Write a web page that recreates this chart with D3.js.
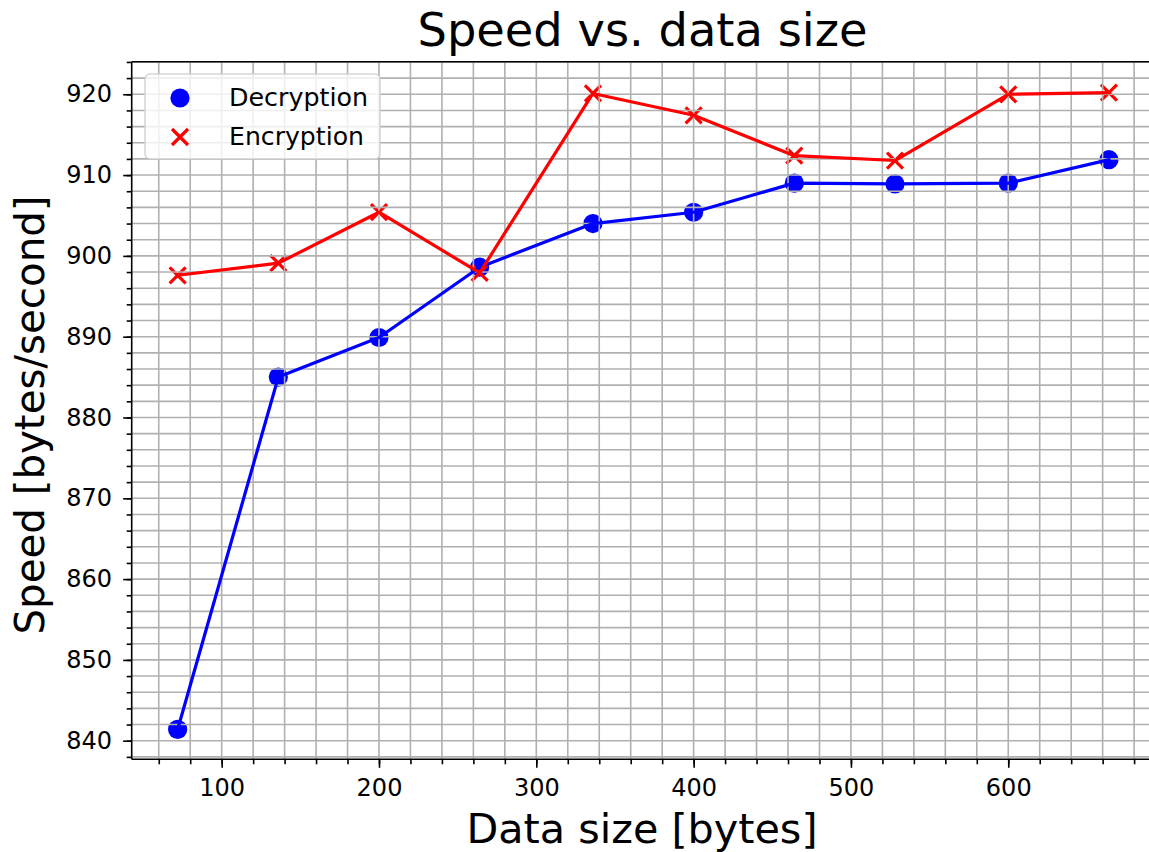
<!DOCTYPE html>
<html>
<head>
<meta charset="utf-8">
<script src="https://cdn.jsdelivr.net/npm/d3@7"></script>
<style>
  html, body { margin: 0; padding: 0; background: #ffffff; }
  svg { display: block; font-family: "DejaVu Sans", sans-serif; }
</style>
</head>
<body>
<svg id="chart" width="1149" height="852"></svg>
<script>
// Measured throughput for each message size
const dataSizes  = [72, 136, 200, 264, 336, 400, 464, 528, 600, 664];
const decryption = [841.4, 885.0, 889.9, 898.6, 904.0, 905.4, 909.0, 908.9, 909.0, 911.9];
const encryption = [897.6, 899.1, 905.4, 897.9, 920.1, 917.4, 912.4, 911.8, 920.0, 920.2];

const xMajorTicks = [100, 200, 300, 400, 500, 600];
const yMajorTicks = [840, 850, 860, 870, 880, 890, 900, 910, 920];
const xMinorTicks = d3.range(60, 681, 20);
const yMinorTicks = d3.range(838, 925, 2);

const seriesList = [
  { name: "Decryption", values: decryption, color: "#0000ff", marker: "circle" },
  { name: "Encryption", values: encryption, color: "#ff0000", marker: "cross" }
];

const svg = d3.select("#chart");
const plotL = 131.7, plotR = 1155.5, plotT = 61.7, plotB = 759.3;

const x = d3.scaleLinear().domain([42.8, 693.6]).range([plotL, plotR]);
const y = d3.scaleLinear().domain([837.7, 924.03]).range([plotB, plotT]);

// plotting area background
svg.append("rect").attr("x", plotL).attr("y", plotT)
  .attr("width", plotR - plotL).attr("height", plotB - plotT).attr("fill", "#ffffff");

// scatter markers sit underneath the grid
const crossPath = "M-8,-8L8,8M-8,8L8,-8";
function drawMarker(g, kind, color) {
  if (kind === "circle") {
    g.append("circle").attr("r", 9.6).attr("fill", color);
  } else {
    g.append("path").attr("d", crossPath).attr("stroke", color)
      .attr("stroke-width", 3.2).attr("fill", "none");
  }
}
seriesList.forEach(s => {
  const pts = svg.append("g");
  dataSizes.forEach((d, i) => {
    const g = pts.append("g").attr("transform", `translate(${x(d)},${y(s.values[i])})`);
    drawMarker(g, s.marker, s.color);
  });
});

// grid on every minor tick
const grid = svg.append("g").attr("stroke", "#b0b0b0").attr("stroke-width", 1.6);
grid.selectAll("line.v").data(xMinorTicks).join("line").attr("class", "v")
  .attr("x1", d => x(d)).attr("x2", d => x(d)).attr("y1", plotT).attr("y2", plotB);
grid.selectAll("line.h").data(yMinorTicks).join("line").attr("class", "h")
  .attr("x1", plotL).attr("x2", plotR).attr("y1", d => y(d)).attr("y2", d => y(d));

// connecting lines
const line = d3.line().x((d, i) => x(dataSizes[i])).y(d => y(d));
seriesList.forEach(s => {
  svg.append("path").datum(s.values).attr("d", line)
    .attr("fill", "none").attr("stroke", s.color).attr("stroke-width", 3.2)
    .attr("stroke-linejoin", "round").attr("stroke-linecap", "square");
});

// axes: major ticks with labels, minor ticks without
const tickFont = 24;
function styleAxis(g) {
  g.select(".domain").remove();
  g.selectAll("line").attr("stroke", "#000").attr("stroke-width", 1.6);
  g.selectAll("text").attr("fill", "#000").attr("font-size", tickFont)
    .attr("font-family", "DejaVu Sans, sans-serif");
}
svg.append("g").attr("transform", `translate(0,${plotB})`)
  .call(d3.axisBottom(x).tickValues(xMinorTicks).tickSize(5).tickFormat(""))
  .call(styleAxis);
svg.append("g").attr("transform", `translate(0,${plotB})`)
  .call(d3.axisBottom(x).tickValues(xMajorTicks).tickSize(8.5).tickPadding(11.5).tickFormat(d3.format("d")))
  .call(styleAxis);
svg.append("g").attr("transform", `translate(${plotL},0)`)
  .call(d3.axisLeft(y).tickValues(yMinorTicks).tickSize(5).tickFormat(""))
  .call(styleAxis);
svg.append("g").attr("transform", `translate(${plotL},0)`)
  .call(d3.axisLeft(y).tickValues(yMajorTicks).tickSize(8.5).tickPadding(11.2).tickFormat(d3.format("d")))
  .call(styleAxis);

// spines
const spines = svg.append("g").attr("stroke", "#000").attr("stroke-width", 1.6);
spines.append("line").attr("x1", plotL).attr("x2", plotL).attr("y1", plotT).attr("y2", plotB);
spines.append("line").attr("x1", plotL).attr("x2", plotR).attr("y1", plotB).attr("y2", plotB);
spines.append("line").attr("x1", plotL).attr("x2", plotR).attr("y1", plotT).attr("y2", plotT);
spines.append("line").attr("x1", plotR).attr("x2", plotR).attr("y1", plotT).attr("y2", plotB);

// titles
svg.append("text").attr("x", 642.5).attr("y", 46)
  .attr("text-anchor", "middle").attr("font-size", 45.5).attr("fill", "#000")
  .attr("textLength", 450).attr("lengthAdjust", "spacingAndGlyphs")
  .text("Speed vs. data size");
svg.append("text").attr("x", 642).attr("y", 843)
  .attr("text-anchor", "middle").attr("font-size", 40.5).attr("fill", "#000")
  .attr("textLength", 351).attr("lengthAdjust", "spacingAndGlyphs")
  .text("Data size [bytes]");
svg.append("text").attr("transform", `translate(44,415) rotate(-90)`)
  .attr("text-anchor", "middle").attr("font-size", 40.5).attr("fill", "#000")
  .attr("textLength", 439).attr("lengthAdjust", "spacingAndGlyphs")
  .text("Speed [bytes/second]");

// legend
const legendWidths = [139, 135];
const legend = svg.append("g").attr("transform", "translate(145,74)");
legend.append("rect").attr("width", 235).attr("height", 85).attr("rx", 5)
  .attr("fill", "#ffffff").attr("fill-opacity", 0.8)
  .attr("stroke", "#cccccc").attr("stroke-opacity", 0.8).attr("stroke-width", 1.6);
seriesList.forEach((s, i) => {
  const row = legend.append("g").attr("transform", `translate(0,${24 + i * 39})`);
  drawMarker(row.append("g").attr("transform", "translate(35,0)"), s.marker, s.color);
  row.append("text").attr("x", 84).attr("y", 0).attr("dy", "0.35em")
    .attr("font-size", tickFont).attr("fill", "#000")
    .attr("textLength", legendWidths[i]).attr("lengthAdjust", "spacingAndGlyphs")
    .text(s.name);
});
</script>
</body>
</html>
